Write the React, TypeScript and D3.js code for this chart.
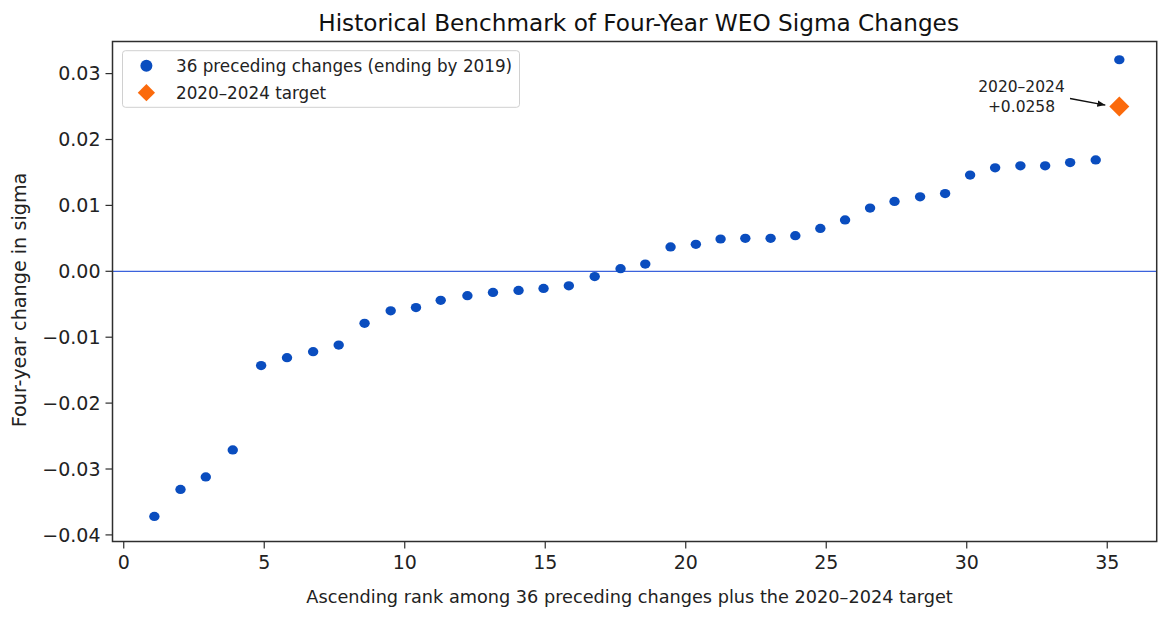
import React from "react";
import * as d3 from "d3";

// Ranks (x positions as pictured) and four-year sigma changes
const rankX: number[] = [
  1.09, 2.02, 2.92, 3.88, 4.89, 5.81, 6.74, 7.65, 8.57, 9.5, 10.4, 11.28, 12.23, 13.14,
  14.05, 14.94, 15.84, 16.76, 17.68, 18.56, 19.46, 20.36, 21.24, 22.12, 23.02, 23.9,
  24.79, 25.67, 26.56, 27.43, 28.34, 29.23, 30.12, 31.01, 31.91, 32.79, 33.68, 34.59, 35.43,
];
const sigmaChanges: number[] = [
  -0.0372, -0.0331, -0.0312, -0.0271, -0.0143, -0.0131, -0.0122, -0.0112, -0.0079, -0.006,
  -0.0055, -0.0044, -0.0037, -0.0032, -0.0029, -0.0026, -0.0022, -0.0008, 0.0004, 0.0011,
  0.0037, 0.0041, 0.0049, 0.005, 0.005, 0.0054, 0.0065, 0.0078, 0.0096, 0.0106, 0.0113,
  0.0118, 0.0146, 0.0157, 0.016, 0.016, 0.0165, 0.0169, 0.0321,
];
const targetX = 35.43;
const targetY = 0.025;
const targetLabel = ["2020\u20132024", "+0.0258"];

const xTicks: number[] = [0, 5, 10, 15, 20, 25, 30, 35];
const yTicks: number[] = [-0.04, -0.03, -0.02, -0.01, 0, 0.01, 0.02, 0.03];

const title = "Historical Benchmark of Four-Year WEO Sigma Changes";
const xLabel = "Ascending rank among 36 preceding changes plus the 2020\u20132024 target";
const yLabel = "Four-year change in sigma";
const legendLabels = ["36 preceding changes (ending by 2019)", "2020\u20132024 target"];

const BLUE = "#0a4dbf";
const ORANGE = "#fb6a0c";
const AXIS = "#2e2e2e";
const FONT = "'DejaVu Sans', Verdana, sans-serif";

export default function App() {
  const W = 1166;
  const H = 621;
  const left = 112.5;
  const right = 1156.7;
  const top = 41.5;
  const bottom = 541.5;

  const x = d3.scaleLinear().domain([-0.4, 36.76]).range([left, right]);
  const y = d3.scaleLinear().domain([-0.041, 0.03487]).range([bottom, top]);

  const diamond = d3.symbol().type(d3.symbolDiamond2).size(255)();
  const legendDiamond = d3.symbol().type(d3.symbolDiamond2).size(190)();

  const fmtY = (v: number) => {
    const s = Math.abs(v).toFixed(2);
    return v < 0 ? "\u2212" + s : s;
  };

  const ax = x(targetX);
  const ay = y(targetY);

  return (
    <svg
      width={W}
      height={H}
      style={{ position: "absolute", left: 0, top: 0, background: "#fff" }}
      fontFamily={FONT}
    >
      <defs>
        <marker id="arrowhead" viewBox="0 0 10 10" refX="10" refY="5" markerWidth="8" markerHeight="8" markerUnits="userSpaceOnUse" orient="auto">
          <path d="M0,1 L10,5 L0,9 z" fill="#111" />
        </marker>
      </defs>
      <rect x={0} y={0} width={W} height={H} fill="#fff" />

      {/* title */}
      <text x={(left + right) / 2 + 4} y={31} textAnchor="middle" fontSize={23.2} fill="#111">
        {title}
      </text>

      {/* zero line */}
      <line x1={left} x2={right} y1={y(0)} y2={y(0)} stroke="#3b62dc" strokeWidth={1.3} />

      {/* points */}
      {rankX.map((rx, i) => (
        <ellipse key={i} cx={x(rx)} cy={y(sigmaChanges[i])} rx={5.2} ry={4.6} fill={BLUE} />
      ))}
      <path d={diamond ?? ""} transform={`translate(${ax},${ay})`} fill={ORANGE} />

      {/* annotation */}
      <text x={1021.5} y={92.3} textAnchor="middle" fontSize={15.5} fill="#222">
        {targetLabel[0]}
      </text>
      <text x={1021.5} y={112.3} textAnchor="middle" fontSize={15.5} fill="#222">
        {targetLabel[1]}
      </text>
      <line x1={1070} y1={98.5} x2={ax - 14} y2={ay - 1.5} stroke="#111" strokeWidth={1.3} markerEnd="url(#arrowhead)" />

      {/* spines */}
      <rect x={left} y={top} width={right - left} height={bottom - top} fill="none" stroke={AXIS} strokeWidth={1.5} />

      {/* x ticks */}
      {xTicks.map((t) => (
        <g key={"x" + t} transform={`translate(${x(t)},${bottom})`}>
          <line y1={0} y2={7} stroke={AXIS} strokeWidth={1.2} />
          <text y={27.5} textAnchor="middle" fontSize={19} fill="#222">
            {t}
          </text>
        </g>
      ))}

      {/* y ticks */}
      {yTicks.map((t) => (
        <g key={"y" + t} transform={`translate(${left},${y(t)})`}>
          <line x1={0} x2={-7} stroke={AXIS} strokeWidth={1.2} />
          <text x={-12} dy="0.36em" textAnchor="end" fontSize={19} fill="#222">
            {fmtY(t)}
          </text>
        </g>
      ))}

      {/* axis labels */}
      <text x={(left + right) / 2 - 5} y={603} textAnchor="middle" fontSize={17.7} fill="#222">
        {xLabel}
      </text>
      <text transform={`translate(26,300) rotate(-90)`} textAnchor="middle" fontSize={19.2} fill="#222">
        {yLabel}
      </text>

      {/* legend */}
      <rect x={122.5} y={50.7} width={397} height={56.6} rx={3} fill="#fff" fillOpacity={0.85} stroke="#d0d0d0" strokeWidth={1} />
      <circle cx={146.4} cy={65.7} r={6} fill={BLUE} />
      <path d={legendDiamond ?? ""} transform="translate(146.4,92.7)" fill={ORANGE} />
      <text x={176} y={65.7} dy="0.36em" fontSize={16.8} fill="#222">
        {legendLabels[0]}
      </text>
      <text x={176} y={92.7} dy="0.36em" fontSize={16.8} fill="#222">
        {legendLabels[1]}
      </text>
    </svg>
  );
}
